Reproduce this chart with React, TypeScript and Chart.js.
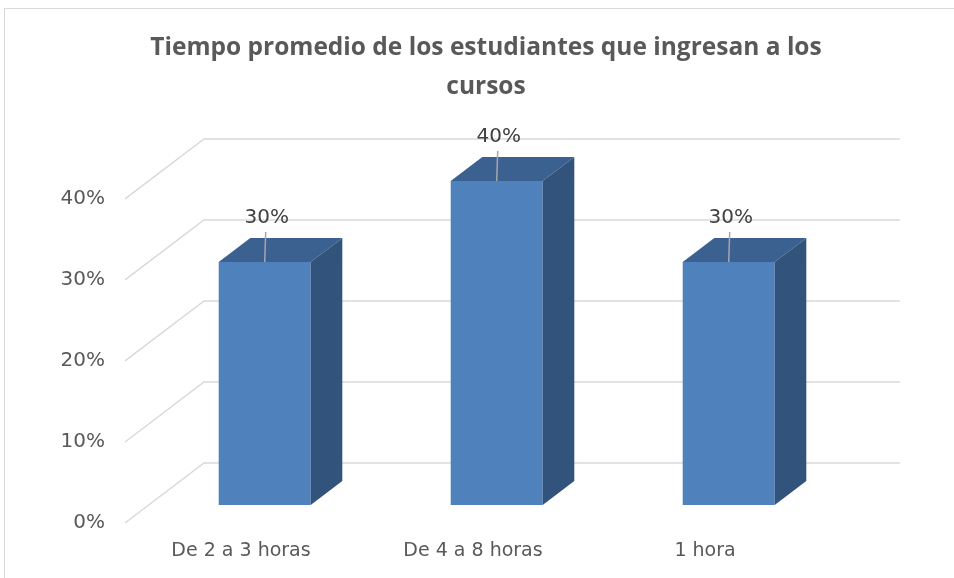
import React, { useEffect, useRef } from "react";
import { Chart, registerables } from "chart.js";

Chart.register(...registerables);

// ---- data ----
const categories: string[] = ["De 2 a 3 horas", "De 4 a 8 horas", "1 hora"];
const values: number[] = [0.3, 0.4, 0.3];
const dataLabels: string[] = ["30%", "40%", "30%"];
const yTickValues: number[] = [0, 0.1, 0.2, 0.3, 0.4];
const titleLines: string[] = ["Tiempo promedio de los estudiantes que ingresan a los", "cursos"];

// ---- 3D geometry (styling, not data) ----
const DEPTH_X = 79;
const DEPTH_Y = -60;
const BAR_FRONT = 0.3;
const BAR_BACK = 0.7;

const GRID_COLOR = "#d9d9d9";
const FRONT_COLOR = "#4F81BD";
const TOP_COLOR = "#3B6190";
const SIDE_COLOR = "#31537C";
const TEXT_COLOR = "#595959";
const TICK_FONT = "'DejaVu Sans', sans-serif";

const threeDPlugin = {
  id: "threeD",
  beforeDatasetsDraw(chart: any) {
    const { ctx, chartArea, scales } = chart;
    const y = scales.y;
    ctx.save();
    ctx.strokeStyle = GRID_COLOR;
    ctx.lineWidth = 1.5;
    y.ticks.forEach((t: any) => {
      const py = y.getPixelForValue(t.value);
      ctx.beginPath();
      ctx.moveTo(chartArea.left, py);
      ctx.lineTo(chartArea.left + DEPTH_X, py + DEPTH_Y);
      ctx.lineTo(chartArea.right + DEPTH_X, py + DEPTH_Y);
      ctx.stroke();
    });
    ctx.restore();
    ctx.save();
    ctx.translate(DEPTH_X * BAR_FRONT, DEPTH_Y * BAR_FRONT);
  },
  afterDatasetsDraw(chart: any) {
    const { ctx } = chart;
    ctx.restore();
    const meta = chart.getDatasetMeta(0);
    const ox = DEPTH_X * BAR_FRONT;
    const oy = DEPTH_Y * BAR_FRONT;
    const dx = DEPTH_X * (BAR_BACK - BAR_FRONT);
    const dy = DEPTH_Y * (BAR_BACK - BAR_FRONT);
    meta.data.forEach((el: any, i: number) => {
      const p = el.getProps(["x", "y", "base", "width"], true);
      const left = p.x - p.width / 2 + ox;
      const right = p.x + p.width / 2 + ox;
      const top = p.y + oy;
      const bottom = p.base + oy;
      ctx.save();
      // top face
      ctx.fillStyle = TOP_COLOR;
      ctx.beginPath();
      ctx.moveTo(left, top);
      ctx.lineTo(right, top);
      ctx.lineTo(right + dx, top + dy);
      ctx.lineTo(left + dx, top + dy);
      ctx.closePath();
      ctx.fill();
      // side face
      ctx.fillStyle = SIDE_COLOR;
      ctx.beginPath();
      ctx.moveTo(right, top);
      ctx.lineTo(right + dx, top + dy);
      ctx.lineTo(right + dx, bottom + dy);
      ctx.lineTo(right, bottom);
      ctx.closePath();
      ctx.fill();
      // data label with leader line
      const cx = (left + right) / 2;
      ctx.strokeStyle = "#a6a6a6";
      ctx.lineWidth = 1.5;
      ctx.beginPath();
      ctx.moveTo(cx + 1, top - 30);
      ctx.lineTo(cx, top);
      ctx.stroke();
      ctx.fillStyle = "#404040";
      ctx.font = "20px " + TICK_FONT;
      ctx.textAlign = "center";
      ctx.textBaseline = "middle";
      ctx.fillText(dataLabels[i], cx + 2, top - 44);
      ctx.restore();
    });
  },
};

export default function App() {
  const canvasRef = useRef<HTMLCanvasElement | null>(null);

  useEffect(() => {
    const canvas = canvasRef.current;
    if (!canvas) return;
    const chart = new Chart(canvas, {
      type: "bar",
      data: {
        labels: categories,
        datasets: [
          {
            data: values,
            backgroundColor: FRONT_COLOR,
            borderWidth: 0,
            barPercentage: 92 / 232,
            categoryPercentage: 1,
            clip: false as any,
          },
        ],
      },
      options: {
        animation: false,
        responsive: false,
        devicePixelRatio: 1,
        layout: { padding: { left: 18, right: 0, top: 0, bottom: 0 } },
        plugins: {
          legend: { display: false },
          tooltip: { enabled: false },
          title: {
            display: true,
            text: titleLines,
            color: TEXT_COLOR,
            font: { family: "'Liberation Sans Narrow', 'Open Sans', sans-serif", size: 24.5, weight: "bold", lineHeight: 1.6 },
            padding: { top: 28.5, bottom: 92 },
          },
        },
        scales: {
          x: {
            grid: { display: false, drawTicks: false },
            border: { display: false },
            ticks: {
              color: TEXT_COLOR,
              font: { family: TICK_FONT, size: 19 },
              padding: 17,
              maxRotation: 0,
            },
            afterFit: (scale: any) => {
              scale.height = 55;
            },
          },
          y: {
            min: 0,
            max: 0.4,
            grid: { display: false, drawTicks: false },
            border: { display: false },
            afterBuildTicks: (scale: any) => {
              scale.ticks = yTickValues.map((v) => ({ value: v }));
            },
            ticks: {
              color: TEXT_COLOR,
              font: { family: TICK_FONT, size: 20 },
              padding: 20,
              callback: (v: any) => Math.round(Number(v) * 100) + "%",
            },
            afterFit: (scale: any) => {
              scale.width = 107;
            },
          },
          yRightSpace: {
            position: "right",
            display: true,
            min: 0,
            max: 1,
            grid: { display: false, drawTicks: false },
            border: { display: false },
            ticks: { display: false },
            afterFit: (scale: any) => {
              scale.width = 133;
            },
          },
        },
      },
      plugins: [threeDPlugin],
    });
    return () => chart.destroy();
  }, []);

  return (
    <div style={{ position: "fixed", left: 0, top: 0, width: 954, height: 578, background: "#fff", overflow: "hidden" }}>
      <div
        style={{
          position: "absolute",
          left: 4,
          top: 8,
          width: 980,
          height: 600,
          border: "1px solid #d9d9d9",
          boxSizing: "border-box",
        }}
      />
      <canvas ref={canvasRef} width={954} height={578} style={{ position: "absolute", left: 0, top: 0 }} />
    </div>
  );
}
